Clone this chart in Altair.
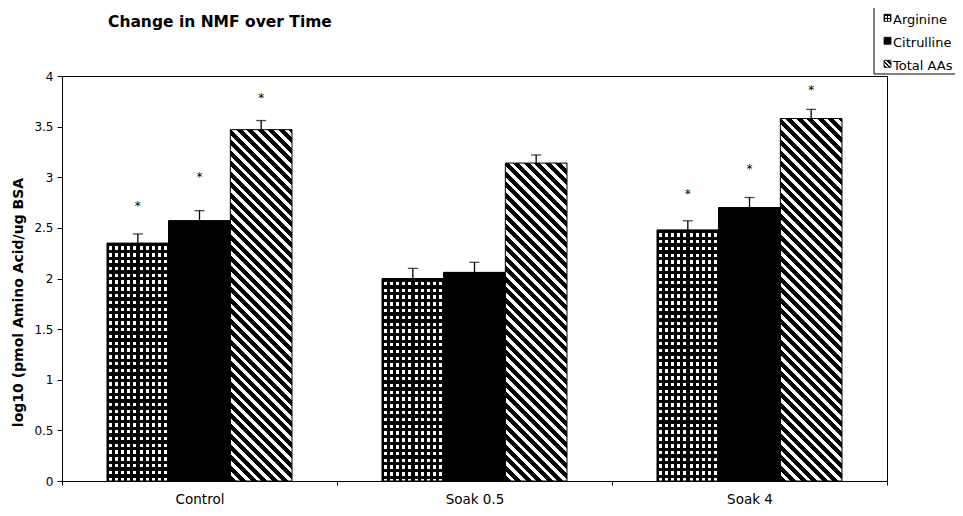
import math
import altair as alt
import pandas as pd

# ---------------- data ----------------
groups = ["Control", "Soak 0.5", "Soak 4"]
series = ["Arginine", "Citrulline", "Total AAs"]
arginine = [2.35, 2.00, 2.48]
citrulline = [2.57, 2.06, 2.70]
total_aas = [3.47, 3.14, 3.58]
arginine_err = [0.09, 0.10, 0.09]
citrulline_err = [0.10, 0.10, 0.10]
total_err = [0.09, 0.08, 0.09]
arginine_star = [2.75, None, 2.86]
citrulline_star = [3.03, None, 3.11]
total_star = [3.81, None, 3.89]
y_ticks = [0, 0.5, 1, 1.5, 2, 2.5, 3, 3.5, 4]
title_text = ["Change in NMF over Time"]
y_title = "log10 (pmol Amino Acid/ug BSA"

# ---------------- layout ----------------
W, H = 825, 405
Y_MAX = 4
OUTER = 0.73
FONT = "DejaVu Sans"
bar_w = (W / len(groups)) / (len(series) + 2 * OUTER)
CLEAR = "rgba(0,0,0,0)"
PAD = {"left": 54, "top": 68, "right": 68, "bottom": 27}

rows = []
for s, vals, errs, stars in zip(
    series,
    [arginine, citrulline, total_aas],
    [arginine_err, citrulline_err, total_err],
    [arginine_star, citrulline_star, total_star],
):
    for g, v, e, st in zip(groups, vals, errs, stars):
        rows.append(dict(group=g, series=s, value=v, upper=round(v + e, 3), star=st))
df = pd.DataFrame(rows)


def band_stops(length, period, on_frac, on, off, phase=0.0):
    stops = [(0.0, off)]
    pos = phase - period
    while pos < length:
        a = max(pos, 0.0) / length
        b = min(pos + on_frac * period, length) / length
        if b > a:
            stops += [(a, off), (a, on), (b, on), (b, off)]
        pos += period
    stops.append((1.0, off))
    out = []
    last = 0.0
    for o, c in stops:
        o = round(min(max(o, last), 1.0), 5)
        last = o
        out.append({"offset": o, "color": c})
    return out


def lin(x1, y1, x2, y2, stops):
    return {"gradient": "linear", "x1": x1, "y1": y1, "x2": x2, "y2": y2, "stops": stops}


def diag_grad(w, h, period, on_frac=0.55):
    r = h / w
    k = (1 + r) / (1 + r * r)
    return lin(0, 1, round(k, 6), round(1 - k * r, 6),
               band_stops(w + h, period, on_frac, "black", "white"))


def col_grad(w, period, frac):
    return lin(0, 0, 1, 0, band_stops(w, period, frac, "white", CLEAR, phase=period * 0.25))


def row_grad(h, period, frac):
    return lin(0, 0, 0, 1, band_stops(h, period, frac, "black", CLEAR, phase=0.0))


X = alt.X(
    "group:N",
    scale=alt.Scale(domain=groups, paddingInner=0, paddingOuter=0),
    axis=alt.Axis(title=None, labelAngle=0, tickBand="extent", tickSize=4,
                  labelFontSize=13.5, labelBaseline="alphabetic", labelPadding=18,
                  labelFont=FONT, labelColor="black", domainColor="black",
                  tickColor="black"),
)
XO = alt.XOffset("series:N", scale=alt.Scale(domain=series, paddingInner=0, paddingOuter=OUTER))


def Y(field):
    return alt.Y(
        field,
        type="quantitative",
        scale=alt.Scale(domain=[0, Y_MAX], nice=False, zero=True),
        axis=alt.Axis(values=y_ticks, format="~g", title=y_title, grid=False,
                      tickSize=5, labelPadding=4, labelFontSize=12, labelFont=FONT,
                      labelColor="black", domainColor="black", tickColor="black",
                      titleFont=FONT, titleFontSize=14, titleFontWeight="bold",
                      titleColor="black", titleAngle=270, titleAlign="center",
                      titleBaseline="middle", titleX=-44, titleY=226),
    )


base = alt.Chart(df)
layers = []

# Citrulline: solid black
layers.append(base.mark_bar(fill="black", stroke="black", strokeWidth=1)
              .encode(x=X, xOffset=XO, y=Y("value"))
              .transform_filter(alt.datum.series == "Citrulline"))

# Arginine: checker (white dots on black)
layers.append(base.mark_bar(fill="black", strokeWidth=0)
              .encode(x=X, xOffset=XO, y=Y("value"))
              .transform_filter(alt.datum.series == "Arginine"))
layers.append(base.mark_bar(fill=col_grad(bar_w, 6.2, 0.5), strokeWidth=0)
              .encode(x=X, xOffset=XO, y=Y("value"))
              .transform_filter(alt.datum.series == "Arginine"))
for g, v in zip(groups, arginine):
    h = v / Y_MAX * H
    layers.append(base.mark_bar(fill=row_grad(h, 6.8, 0.48), strokeWidth=0)
                  .encode(x=X, xOffset=XO, y=Y("value"))
                  .transform_filter((alt.datum.series == "Arginine") & (alt.datum.group == g)))

# Total AAs: diagonal stripes
for g, v in zip(groups, total_aas):
    h = v / Y_MAX * H
    layers.append(base.mark_bar(fill=diag_grad(bar_w, h, 10.5), strokeWidth=0)
                  .encode(x=X, xOffset=XO, y=Y("value"))
                  .transform_filter((alt.datum.series == "Total AAs") & (alt.datum.group == g)))

# outlines
layers.append(base.mark_bar(fill="white", fillOpacity=0, stroke="black", strokeWidth=1)
              .encode(x=X, xOffset=XO, y=Y("value")))

# error bars (upper only)
layers.append(base.mark_rule(color="black", strokeWidth=1.3)
              .encode(x=X, xOffset=XO, y=Y("value"), y2="upper:Q"))
layers.append(base.mark_tick(color="black", thickness=1.3, size=10, orient="horizontal")
              .encode(x=X, xOffset=XO, y=Y("upper")))

# significance stars
layers.append(base.mark_text(text="*", fontSize=12, font=FONT, baseline="alphabetic", dy=7,
                             color="black")
              .encode(x=X, xOffset=XO, y=Y("star"))
              .transform_filter("isValid(datum.star)"))

# ---------------- manual legend ----------------
LX_ICON, LX_TEXT = 822, 831
L_BASE = [-52, -29, -6]
RIGHT_EDGE = W + PAD["right"]
legend_fills = {
    "Citrulline": ["black"],
    "Arginine": ["black", col_grad(7, 3.5, 0.55), row_grad(7, 3.5, 0.45)],
    "Total AAs": [diag_grad(7, 7, 4.5)],
}
for s, yb in zip(series, L_BASE):
    one = alt.Chart(pd.DataFrame({"label": [s]}))
    for f in legend_fills[s]:
        layers.append(one.mark_rect(fill=f, strokeWidth=0).encode(
            x=alt.value(LX_ICON), x2=alt.value(LX_ICON + 7),
            y=alt.value(yb - 9.7), y2=alt.value(yb - 2.7)))
    layers.append(one.mark_rect(fillOpacity=0, stroke="black", strokeWidth=0.8).encode(
        x=alt.value(LX_ICON), x2=alt.value(LX_ICON + 7),
        y=alt.value(yb - 9.7), y2=alt.value(yb - 2.7)))
    layers.append(one.mark_text(align="left", baseline="alphabetic", fontSize=13, font=FONT,
                                color="black")
                  .encode(x=alt.value(LX_TEXT), y=alt.value(yb), text="label:N"))

box = alt.Chart(pd.DataFrame({"label": series[:1]}))
layers.append(box.mark_rule(color="black", strokeWidth=1).encode(
    x=alt.value(812), y=alt.value(-68), y2=alt.value(-2)))
layers.append(box.mark_rule(color="black", strokeWidth=1).encode(
    x=alt.value(812), x2=alt.value(RIGHT_EDGE), y=alt.value(-2)))

# title
layers.append(alt.Chart(pd.DataFrame({"t": title_text})).mark_text(
    align="left", baseline="alphabetic", fontSize=15.5, fontWeight="bold", font=FONT,
    color="black").encode(x=alt.value(46), y=alt.value(-48.7), text="t:N"))

chart = (
    alt.layer(*layers)
    .properties(width=W, height=H, autosize="none", padding=PAD, background="white")
    .configure_view(stroke="black", strokeWidth=1)
)

chart.save("out.html", embed_options={"renderer": "svg", "actions": False})
